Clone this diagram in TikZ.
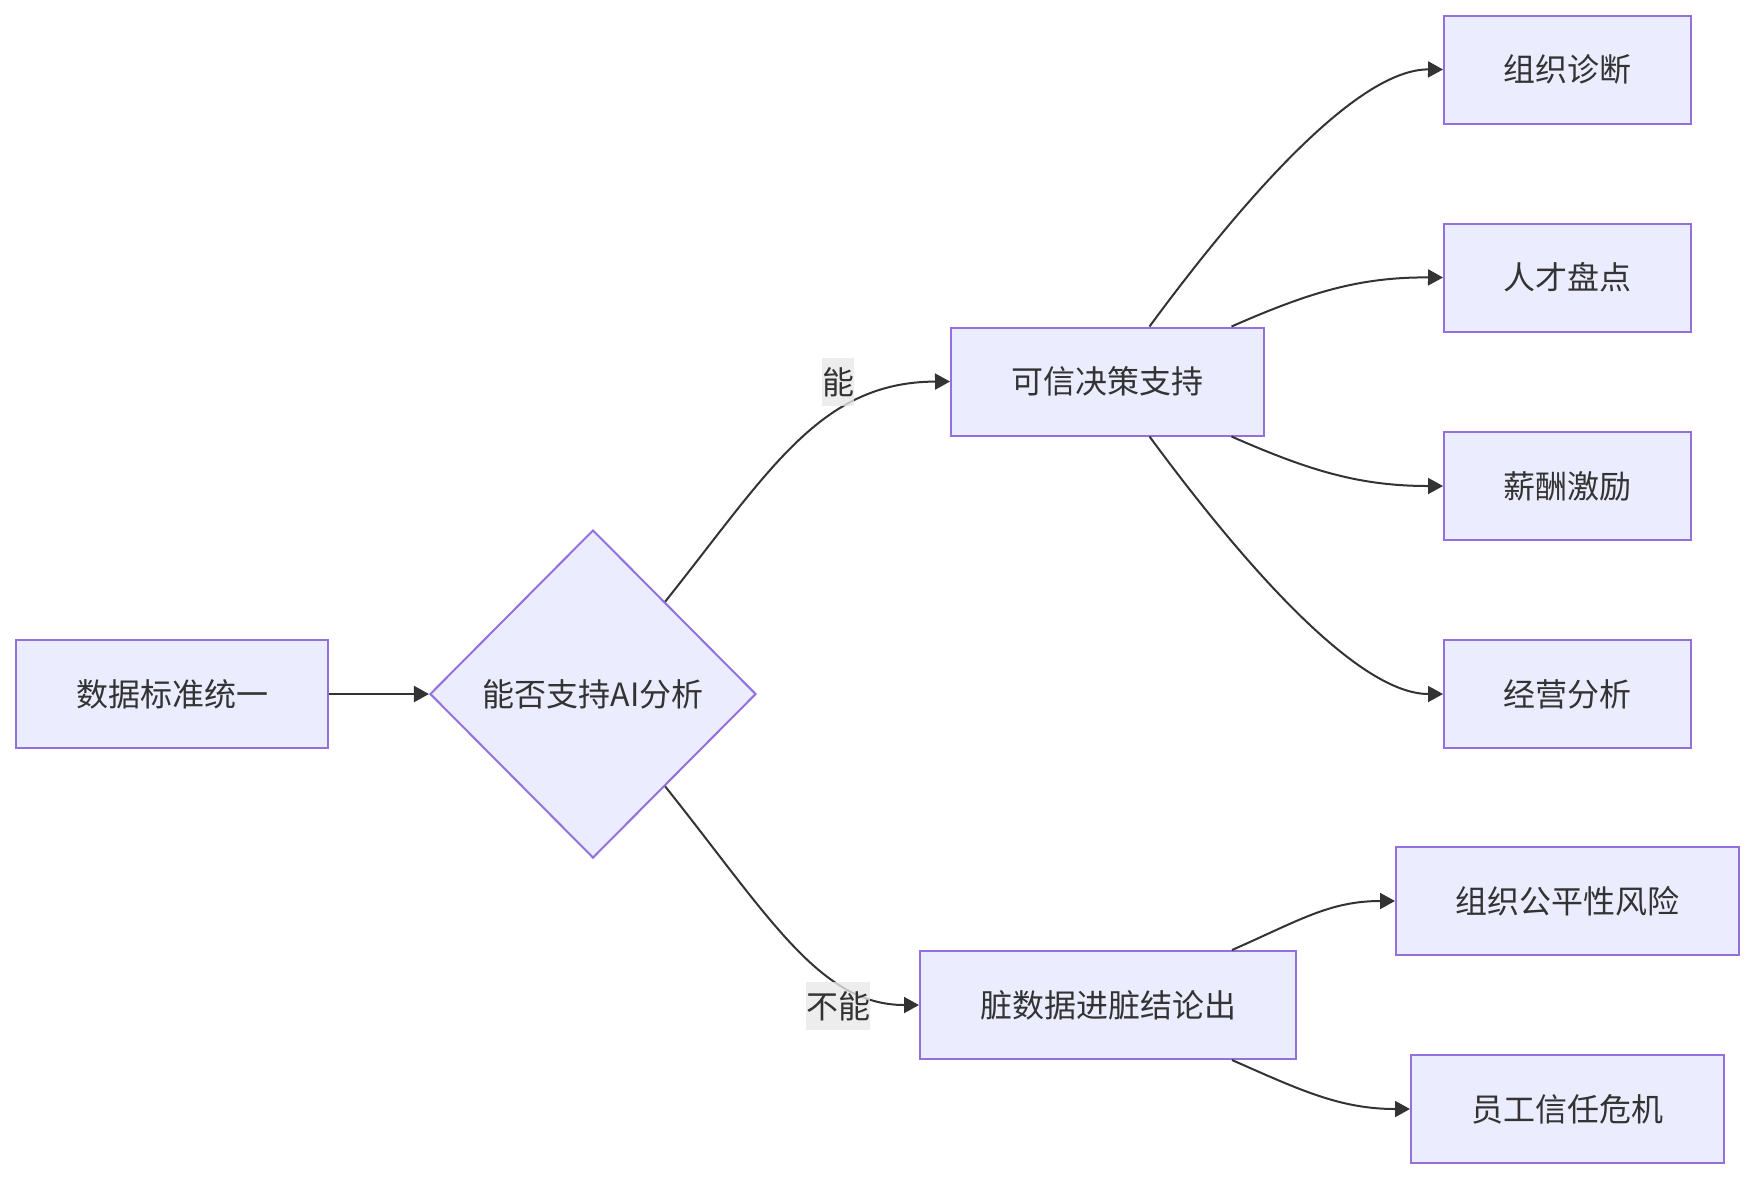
\documentclass[tikz,border=0pt]{standalone}
\usepackage{fontspec}
\setmainfont{Noto Sans CJK SC}
\usepackage{tikz}
\usetikzlibrary{shapes.geometric,arrows.meta,positioning}
\definecolor{boxfill}{HTML}{ECECFF}
\definecolor{boxline}{HTML}{9370DB}
\definecolor{inkgray}{HTML}{333333}
\definecolor{labelgray}{HTML}{E8E8E8}
\tikzset{
  procbox/.style={
    inner sep = 0pt,
    shape = rectangle,
    draw = boxline,
    fill = boxfill,
    line width = 1pt,
    text = inkgray,
    minimum height = 54pt,
    font = \fontsize{16}{19}\selectfont
  },
}
\tikzset{
  decide/.style={
    inner sep = 0pt,
    shape = diamond,
    aspect = 1,
    draw = boxline,
    fill = boxfill,
    line width = 1pt,
    text = inkgray,
    minimum width = 163pt,
    minimum height = 164pt,
    font = \fontsize{16}{19}\selectfont
  },
  flow/.style={
    draw = inkgray,
    line width = 1pt,
    -{Triangle[length=7.5pt,width=8pt]}
  },
  edgelbl/.style={
    fill = labelgray,
    fill opacity = 0.8,
    text opacity = 1,
    text = inkgray,
    inner sep = 0pt,
    minimum height = 24pt,
    font = \fontsize{16}{19}\selectfont
  }
}

\begin{document}
\begin{tikzpicture}[x=0.5pt,y=-0.5pt]
    \useasboundingbox (0,0) rectangle (1755,1180);
    \node[procbox, minimum width=156pt] (std) at (172,694) {数据标准统一};
    \node[decide] (ask) at (593,694) {能否支持AI分析};
    \node[procbox, minimum width=156.5pt] (yes) at (1107.5,381.5) {可信决策支持};
    \node[procbox, minimum width=188pt] (no) at (1108,1005) {脏数据进脏结论出};
    \node[procbox, minimum width=123.5pt] (org) at (1567.5,69.5) {组织诊断};
    \node[procbox, minimum width=123.5pt] (tal) at (1567.5,277.5) {人才盘点};
    \node[procbox, minimum width=123.5pt] (pay) at (1567.5,486) {薪酬激励};
    \node[procbox, minimum width=123.5pt] (biz) at (1567.5,694) {经营分析};
    \node[procbox, minimum width=171.5pt] (fair) at (1567.5,901) {组织公平性风险};
    \node[procbox, minimum width=156.5pt] (trust) at (1567.5,1109) {员工信任危机};
    % edges
    \draw[flow] (std) -- (ask);
    \draw[flow] (ask.52) .. controls (770,470) and (820,382) .. (yes.west);
    \draw[flow] (ask.-52) .. controls (770,918) and (820,1005) .. (no.west);
    \draw[flow] ([xshift=21pt]yes.north) .. controls (1250,190) and (1360,69) .. (org.west);
    \draw[flow] ([xshift=62pt]yes.north) .. controls (1310,292) and (1360,277) .. (tal.west);
    \draw[flow] ([xshift=62pt]yes.south) .. controls (1310,471) and (1360,486) .. (pay.west);
    \draw[flow] ([xshift=21pt]yes.south) .. controls (1250,573) and (1360,694) .. (biz.west);
    \draw[flow] ([xshift=62pt]no.north) .. controls (1300,920) and (1330,901) .. (fair.west);
    \draw[flow] ([xshift=62pt]no.south) .. controls (1300,1090) and (1340,1109) .. (trust.west);
    \node[edgelbl, minimum width=16pt] (lblyes) at (838,382) {能};
    \node[edgelbl, minimum width=32pt] (lblno) at (838,1006) {不能};
\end{tikzpicture}
\end{document}
